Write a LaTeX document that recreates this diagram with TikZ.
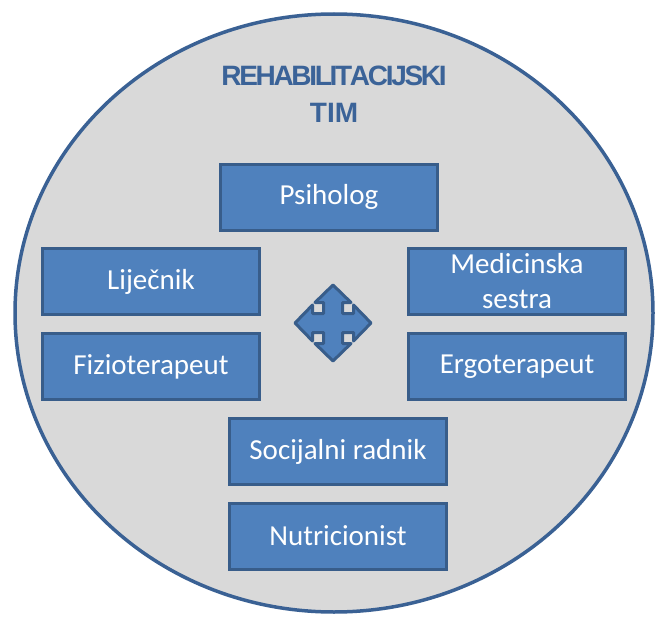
\documentclass[tikz,border=0pt]{standalone}
\usepackage{fontspec}
\usetikzlibrary{shapes.geometric}
\setmainfont{Carlito}
\newfontfamily\titlefont{Liberation Sans}
\definecolor{boxfill}{HTML}{4F81BD}
\definecolor{boxline}{HTML}{385D8A}
\definecolor{circfill}{HTML}{D9D9D9}
\definecolor{circline}{HTML}{3A6194}
\definecolor{titlecol}{HTML}{3B6398}
\newcommand{\tk}{\kern-2.3pt}
\begin{document}
\begin{tikzpicture}[x=1pt,y=-1pt,
  rolebox/.style={draw=boxline, fill=boxfill, line width=3pt, minimum width=217pt, minimum height=66pt,
    inner sep=0pt, text=white, font=\fontsize{29}{35}\selectfont, align=center},
  titletext/.style={text=titlecol, font=\titlefont\bfseries\fontsize{28}{30}\selectfont, inner sep=0pt}]
\useasboundingbox (0,0) rectangle (662,618);
\node[ellipse, draw=circline, fill=circfill, line width=3.5pt, minimum width=638pt, minimum height=598pt, inner sep=0pt] (team) at (334,313) {};
\node[titletext, anchor=base] (t1) at (334,85) {R\tk E\tk H\tk A\tk B\tk I\tk L\tk I\tk T\tk A\tk C\tk I\tk J\tk S\tk K\tk I};
\node[titletext, anchor=base] (t2) at (334,122) {TIM};
\node[rolebox] (psi) at (329,197) {Psiholog};
\node[rolebox] (lij) at (151,281.5) {Liječnik};
\node[rolebox] (fiz) at (151,366.5) {Fizioterapeut};
\node[rolebox] (med) at (517,281.5) {Medicinska\\sestra};
\node[rolebox] (erg) at (517,366.5) {Ergoterapeut};
\node[rolebox] (soc) at (338,451.5) {Socijalni radnik};
\node[rolebox] (nut) at (338,536) {Nutricionist};
\coordinate (c) at (333,323);
\draw[draw=boxline, fill=boxfill, line width=3pt, line join=round, shift={(c)}]
  (0,-38) -- (18,-20.5) -- (9.5,-20.5) -- (9.5,-9.5) -- (20.5,-9.5) -- (20.5,-18) --
  (38,0) -- (20.5,18) -- (20.5,9.5) -- (9.5,9.5) -- (9.5,20.5) -- (18,20.5) --
  (0,38) -- (-18,20.5) -- (-9.5,20.5) -- (-9.5,9.5) -- (-20.5,9.5) -- (-20.5,18) --
  (-38,0) -- (-20.5,-18) -- (-20.5,-9.5) -- (-9.5,-9.5) -- (-9.5,-20.5) -- (-18,-20.5) -- cycle;
\end{tikzpicture}
\end{document}
